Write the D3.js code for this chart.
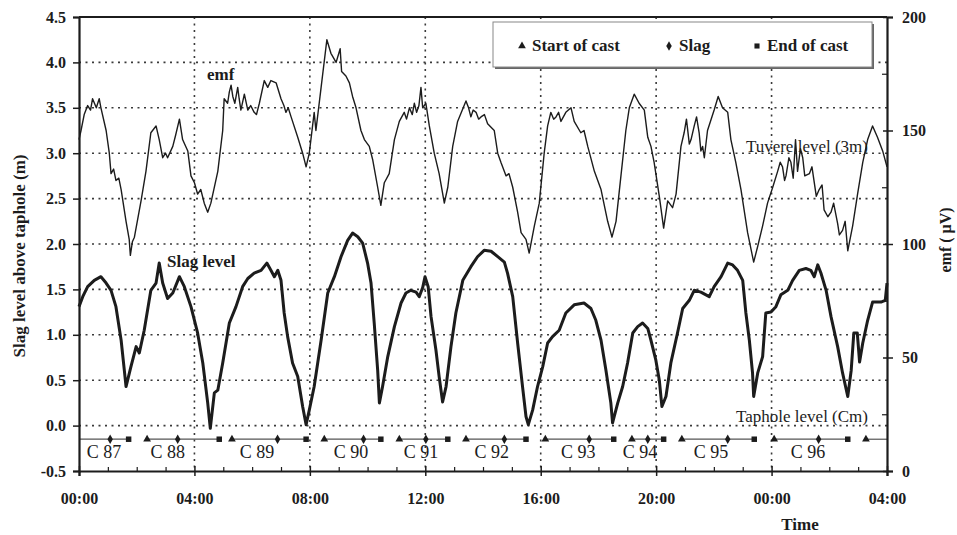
<!DOCTYPE html>
<html><head><meta charset="utf-8">
<script src="https://cdn.jsdelivr.net/npm/d3@7"></script>
<style>
body{margin:0;background:#fff}
svg{display:block}
text{font-family:"Liberation Serif","Times New Roman",serif;fill:#1c1c1c}
</style>
</head><body>
<svg id="chart" width="957" height="535"></svg>
<script>
// ---- data (hours from 00:00) ----
const xTickHours = [0, 4, 8, 12, 16, 20, 24, 28];
const xTickLabels = ["00:00", "04:00", "08:00", "12:00", "16:00", "20:00", "00:00", "04:00"];
const leftTicks = [-0.5, 0, 0.5, 1, 1.5, 2, 2.5, 3, 3.5, 4, 4.5];
const rightTicks = [0, 50, 100, 150, 200];

// emf (µV, right axis): [hour, value]
const emfSeries = [[0,146],[0.07,150],[0.18,157],[0.30,161],[0.40,159],[0.47,164],[0.60,160],[0.70,164],[0.76,160],[0.94,150],[1.05,140],[1.11,131],[1.20,133],[1.28,128],[1.38,129],[1.46,124],[1.63,110],[1.74,102],[1.78,95],[1.85,101],[1.92,103],[2.15,119],[2.32,132],[2.49,149],[2.67,152],[2.78,146],[2.90,138],[3.00,140],[3.07,138],[3.25,143],[3.35,148],[3.48,155],[3.59,146],[3.77,141],[3.88,130],[4.00,127],[4.11,122],[4.22,124],[4.34,118],[4.46,114],[4.57,118],[4.81,132],[4.98,150],[5.03,164],[5.15,162],[5.21,167],[5.27,170],[5.33,165],[5.40,162],[5.50,169],[5.55,164],[5.61,159],[5.73,166],[5.85,159],[5.95,161],[6.07,158],[6.15,157],[6.25,162],[6.42,172],[6.54,169],[6.65,172],[6.83,171],[7.00,164],[7.10,161],[7.17,158],[7.25,160],[7.35,156],[7.58,147],[7.75,140],[7.87,134],[7.98,140],[8.15,158],[8.21,150],[8.39,169],[8.59,190],[8.73,184],[8.91,180],[9.05,186],[9.10,176],[9.25,174],[9.37,171],[9.48,165],[9.60,160],[9.77,150],[9.89,146],[10.06,143],[10.18,137],[10.35,125],[10.46,117],[10.58,127],[10.75,131],[10.93,146],[11.10,154],[11.27,158],[11.35,155],[11.45,160],[11.55,157],[11.62,162],[11.70,158],[11.78,161],[11.85,169],[11.91,160],[12.02,162],[12.14,152],[12.31,140],[12.48,131],[12.66,118],[12.78,125],[12.95,143],[13.12,154],[13.41,163],[13.50,160],[13.58,156],[13.66,159],[13.76,158],[13.85,155],[13.93,156],[14.05,157],[14.16,153],[14.39,150],[14.51,140],[14.62,136],[14.80,130],[14.90,131],[15.03,125],[15.20,114],[15.32,105],[15.49,102],[15.60,96],[15.78,108],[15.95,118],[16.12,140],[16.24,152],[16.35,158],[16.45,155],[16.53,156],[16.62,158],[16.70,154],[16.87,158],[17.05,160],[17.16,154],[17.39,149],[17.50,150],[17.63,143],[17.86,132],[18.09,124],[18.32,110],[18.47,103],[18.61,110],[18.78,130],[18.95,150],[19.07,160],[19.24,166],[19.41,162],[19.59,159],[19.71,147],[19.82,143],[19.93,136],[20.11,121],[20.26,107],[20.40,119],[20.57,116],[20.69,122],[20.86,143],[20.97,149],[21.05,155],[21.15,144],[21.21,146],[21.32,152],[21.40,156],[21.49,149],[21.55,141],[21.61,143],[21.67,138],[21.78,150],[22.01,159],[22.15,165],[22.30,160],[22.48,158],[22.59,146],[22.76,136],[22.94,124],[23.17,105],[23.38,92],[23.52,99],[23.69,108],[23.86,118],[24.04,125],[24.21,132],[24.30,136],[24.38,134],[24.45,128],[24.50,130],[24.60,138],[24.67,136],[24.75,129],[24.83,146],[24.90,132],[25.00,142],[25.08,138],[25.15,130],[25.31,131],[25.40,134],[25.48,127],[25.55,121],[25.65,124],[25.75,126],[25.82,115],[25.95,112],[26.06,114],[26.15,118],[26.29,109],[26.35,104],[26.46,106],[26.55,110],[26.64,97],[26.81,108],[26.98,122],[27.16,136],[27.33,146],[27.50,152],[27.67,147],[27.85,141],[28.0,134]];

// slag level above taphole (m, left axis): [hour, value]
const slagSeries = [[0,1.31],[0.13,1.42],[0.30,1.53],[0.53,1.60],[0.76,1.64],[0.94,1.57],[1.11,1.49],[1.28,1.31],[1.46,0.94],[1.57,0.61],[1.63,0.43],[1.80,0.65],[1.98,0.87],[2.09,0.80],[2.26,1.05],[2.49,1.49],[2.67,1.57],[2.78,1.79],[2.90,1.57],[3.07,1.40],[3.25,1.46],[3.48,1.64],[3.65,1.53],[3.88,1.31],[4.11,1.02],[4.29,0.69],[4.46,0.25],[4.55,-0.03],[4.69,0.36],[4.81,0.39],[4.98,0.69],[5.21,1.13],[5.44,1.31],[5.67,1.53],[5.85,1.62],[6.07,1.68],[6.31,1.71],[6.51,1.79],[6.65,1.71],[6.77,1.64],[6.89,1.71],[7.00,1.60],[7.11,1.24],[7.23,0.98],[7.40,0.69],[7.58,0.54],[7.75,0.21],[7.87,0.01],[7.98,0.17],[8.15,0.43],[8.39,0.94],[8.62,1.46],[8.85,1.64],[9.08,1.86],[9.31,2.04],[9.48,2.12],[9.66,2.08],[9.83,2.01],[10.00,1.79],[10.12,1.57],[10.23,1.13],[10.35,0.61],[10.41,0.25],[10.52,0.43],[10.70,0.76],[10.93,1.09],[11.16,1.35],[11.33,1.46],[11.50,1.49],[11.68,1.47],[11.79,1.42],[11.91,1.52],[11.99,1.64],[12.10,1.53],[12.20,1.20],[12.37,0.83],[12.48,0.54],[12.60,0.26],[12.72,0.43],[12.89,0.87],[13.06,1.24],[13.30,1.60],[13.58,1.75],[13.81,1.86],[14.04,1.93],[14.28,1.92],[14.51,1.86],[14.74,1.80],[14.85,1.68],[15.03,1.42],[15.20,0.91],[15.37,0.43],[15.49,0.10],[15.57,0.01],[15.72,0.17],[15.89,0.43],[16.07,0.65],[16.24,0.91],[16.41,0.98],[16.64,1.05],[16.87,1.24],[17.16,1.33],[17.50,1.35],[17.74,1.29],[17.91,1.16],[18.09,0.94],[18.26,0.61],[18.43,0.25],[18.49,0.03],[18.67,0.25],[18.84,0.43],[19.01,0.69],[19.19,1.02],[19.36,1.09],[19.53,1.13],[19.71,1.07],[19.82,0.94],[19.99,0.72],[20.11,0.50],[20.20,0.21],[20.34,0.32],[20.51,0.69],[20.74,1.02],[20.92,1.29],[21.15,1.38],[21.32,1.49],[21.55,1.47],[21.84,1.42],[22.01,1.53],[22.25,1.64],[22.48,1.79],[22.65,1.77],[22.82,1.71],[23.00,1.60],[23.11,1.24],[23.23,0.94],[23.34,0.58],[23.38,0.32],[23.52,0.58],[23.69,0.76],[23.80,1.24],[23.98,1.25],[24.15,1.31],[24.32,1.44],[24.56,1.49],[24.73,1.60],[24.96,1.71],[25.19,1.73],[25.36,1.71],[25.48,1.64],[25.60,1.77],[25.71,1.68],[25.89,1.49],[26.06,1.20],[26.29,0.87],[26.46,0.58],[26.64,0.32],[26.76,0.61],[26.85,1.02],[26.97,1.02],[27.05,0.70],[27.16,0.91],[27.33,1.16],[27.50,1.36],[27.79,1.36],[27.94,1.38],[28.0,1.57]];

// casts: start (triangle), slag (diamond), end (square), label position (hours)
const castNames   = ["C 87", "C 88", "C 89", "C 90", "C 91", "C 92", "C 93", "C 94", "C 95", "C 96", ""];
const castStart   = [null, 2.36, 5.30, 8.50, 11.10, 13.41, 16.16, 19.16, 20.89, 24.09, 27.27];
const castSlag    = [1.08, 3.42, 6.88, 9.86, 12.02, 14.74, 17.68, 19.71, 22.48, 25.63, null];
const castEnd     = [1.72, 4.86, 7.87, 10.46, 12.78, 15.49, 18.53, 20.26, 23.40, 26.64, null];
const castLabelAt = [0.87, 3.08, 6.17, 9.43, 11.85, 14.3, 17.3, 19.44, 21.9, 25.26, null];
const castRowLevel = -0.15;

const legendItems = [
  {label: "Start of cast", symbol: d3.symbolTriangle},
  {label: "Slag", symbol: d3.symbolDiamond},
  {label: "End of cast", symbol: d3.symbolSquare}
];

// ---- drawing ----
const svg = d3.select("#chart");
const ink = "#1c1c1c";
const L = 79, R = 887, T = 17, B = 471;
const x = d3.scaleLinear().domain([0, 28]).range([L, R]);
const yL = d3.scaleLinear().domain([-0.5, 4.5]).range([B, T]);
const yR = d3.scaleLinear().domain([0, 200]).range([B, T]);

// grid (dotted)
const gridH = leftTicks.filter(v => v > -0.5 && v < 4.5);
const gridV = xTickHours.filter(h => h > 0 && h < 28);
const grid = svg.append("g");
gridH.forEach(v => grid.append("line")
  .attr("x1", L).attr("x2", R).attr("y1", yL(v)).attr("y2", yL(v))
  .attr("stroke", "#3a3a3a").attr("stroke-width", 1.6).attr("stroke-dasharray", "2 4.5"));
gridV.forEach(h => grid.append("line")
  .attr("x1", x(h)).attr("x2", x(h)).attr("y1", T).attr("y2", B)
  .attr("stroke", "#3a3a3a").attr("stroke-width", 1.6).attr("stroke-dasharray", "2 4.5"));

// top frame
svg.append("line").attr("x1", L).attr("x2", R).attr("y1", T).attr("y2", T).attr("stroke", ink).attr("stroke-width", 2);

// lines
const emfLine = d3.line().x(d => x(d[0])).y(d => yR(d[1]));
svg.append("path").datum(emfSeries).attr("d", emfLine).attr("fill", "none")
  .attr("stroke", ink).attr("stroke-width", 1.4).attr("stroke-linejoin", "round");
const slagLine = d3.line().x(d => x(d[0])).y(d => yL(d[1]));
svg.append("path").datum(slagSeries).attr("d", slagLine).attr("fill", "none")
  .attr("stroke", ink).attr("stroke-width", 3).attr("stroke-linejoin", "round");

// cast row
const castG = svg.append("g");
const cy = yL(castRowLevel);
castNames.forEach((name, i) => {
  const s = castStart[i] == null ? 0 : castStart[i];
  const e = castEnd[i] == null ? 28 : castEnd[i];
  castG.append("line").attr("x1", x(s)).attr("x2", x(e)).attr("y1", cy).attr("y2", cy)
    .attr("stroke", "#555").attr("stroke-width", 1.2);
  if (castStart[i] != null) castG.append("path").attr("d", d3.symbol(d3.symbolTriangle, 26)())
    .attr("transform", `translate(${x(castStart[i])},${cy})`).attr("fill", ink);
  if (castSlag[i] != null) castG.append("path").attr("d", d3.symbol(d3.symbolDiamond, 26)())
    .attr("transform", `translate(${x(castSlag[i])},${cy})`).attr("fill", ink);
  if (castEnd[i] != null) castG.append("path").attr("d", d3.symbol(d3.symbolSquare, 30)())
    .attr("transform", `translate(${x(castEnd[i])},${cy})`).attr("fill", ink);
  if (castLabelAt[i] != null) castG.append("text").attr("x", x(castLabelAt[i])).attr("y", 458)
    .attr("text-anchor", "middle").style("font-size", "18px").text(name);
});

// axes
const font = g => g.selectAll("text").style("font-size", "16px").style("font-weight", "bold")
  .style("font-family", '"Liberation Serif", serif').attr("fill", ink);
const xAxis = svg.append("g").attr("transform", `translate(0,${B})`)
  .call(d3.axisBottom(x).tickValues(xTickHours).tickFormat((d, i) => xTickLabels[i]).tickSize(5).tickPadding(17));
xAxis.call(font);
xAxis.select(".domain").attr("stroke", ink).attr("stroke-width", 2.2);
xAxis.selectAll(".tick line").attr("y1", -5).attr("stroke", ink).attr("stroke-width", 1.5);
svg.append("g").attr("transform", `translate(0,${B})`)
  .call(d3.axisTop(x).tickValues(d3.range(1, 28).filter(h => h % 4 !== 0)).tickSize(4).tickFormat(""))
  .call(g => g.select(".domain").remove())
  .selectAll("line").attr("stroke", ink).attr("stroke-width", 1.2);

const yAxisL = svg.append("g").attr("transform", `translate(${L},0)`)
  .call(d3.axisLeft(yL).tickValues(leftTicks).tickFormat(d3.format(".1f")).tickSize(6).tickPadding(7));
yAxisL.call(font);
yAxisL.select(".domain").attr("stroke", ink).attr("stroke-width", 2.2);
yAxisL.selectAll(".tick line").attr("stroke", ink).attr("stroke-width", 1.5);
yAxisL.selectAll("text").text(d => d === -0.5 ? "-0.5" : d3.format(".1f")(d));

const yAxisR = svg.append("g").attr("transform", `translate(${R},0)`)
  .call(d3.axisRight(yR).tickValues(rightTicks).tickSize(6).tickPadding(9));
yAxisR.call(font);
yAxisR.select(".domain").attr("stroke", ink).attr("stroke-width", 2.2);
yAxisR.selectAll(".tick line").attr("x1", -4).attr("stroke", ink).attr("stroke-width", 1.5);
svg.append("g").attr("transform", `translate(${R},0)`)
  .call(d3.axisLeft(yR).tickValues([25, 75, 125, 175]).tickSize(5).tickFormat(""))
  .call(g => g.select(".domain").remove())
  .selectAll("line").attr("stroke", ink).attr("stroke-width", 1.2);

// axis titles
svg.append("text").attr("transform", "translate(25,256) rotate(-90)").attr("text-anchor", "middle")
  .style("font-size", "17px").style("font-weight", "bold").text("Slag level above taphole (m)");
svg.append("text").attr("transform", "translate(951,240) rotate(-90)").attr("text-anchor", "middle")
  .style("font-size", "16px").style("font-weight", "bold").text("emf ( \u03bcV)");
svg.append("text").attr("x", 800).attr("y", 530).attr("text-anchor", "middle")
  .style("font-size", "17px").style("font-weight", "bold").text("Time");

// annotations
svg.append("text").attr("x", 207).attr("y", 80).style("font-size", "17px").style("font-weight", "bold").text("emf");
svg.append("text").attr("x", 167).attr("y", 267).style("font-size", "17px").style("font-weight", "bold").text("Slag level");
svg.append("text").attr("x", 868).attr("y", 152).attr("text-anchor", "end").style("font-size", "17px").text("Tuvere level (3m)");
svg.append("text").attr("x", 868).attr("y", 422).attr("text-anchor", "end").style("font-size", "17px").text("Taphole level (Cm)");

// legend
const lg = svg.append("g");
lg.append("rect").attr("x", 495).attr("y", 24).attr("width", 379).attr("height", 45).attr("fill", "#666");
lg.append("rect").attr("x", 493).attr("y", 22).attr("width", 379).attr("height", 45)
  .attr("fill", "#fff").attr("stroke", "#888").attr("stroke-width", 1);
const legX = [522, 669, 757];
legendItems.forEach((it, i) => {
  lg.append("path").attr("d", d3.symbol(it.symbol, 26)()).attr("transform", `translate(${legX[i]},46)`).attr("fill", ink);
  lg.append("text").attr("x", legX[i] + 10).attr("y", 51).style("font-size", "17px").style("font-weight", "bold").text(it.label);
});
</script>
</body></html>
